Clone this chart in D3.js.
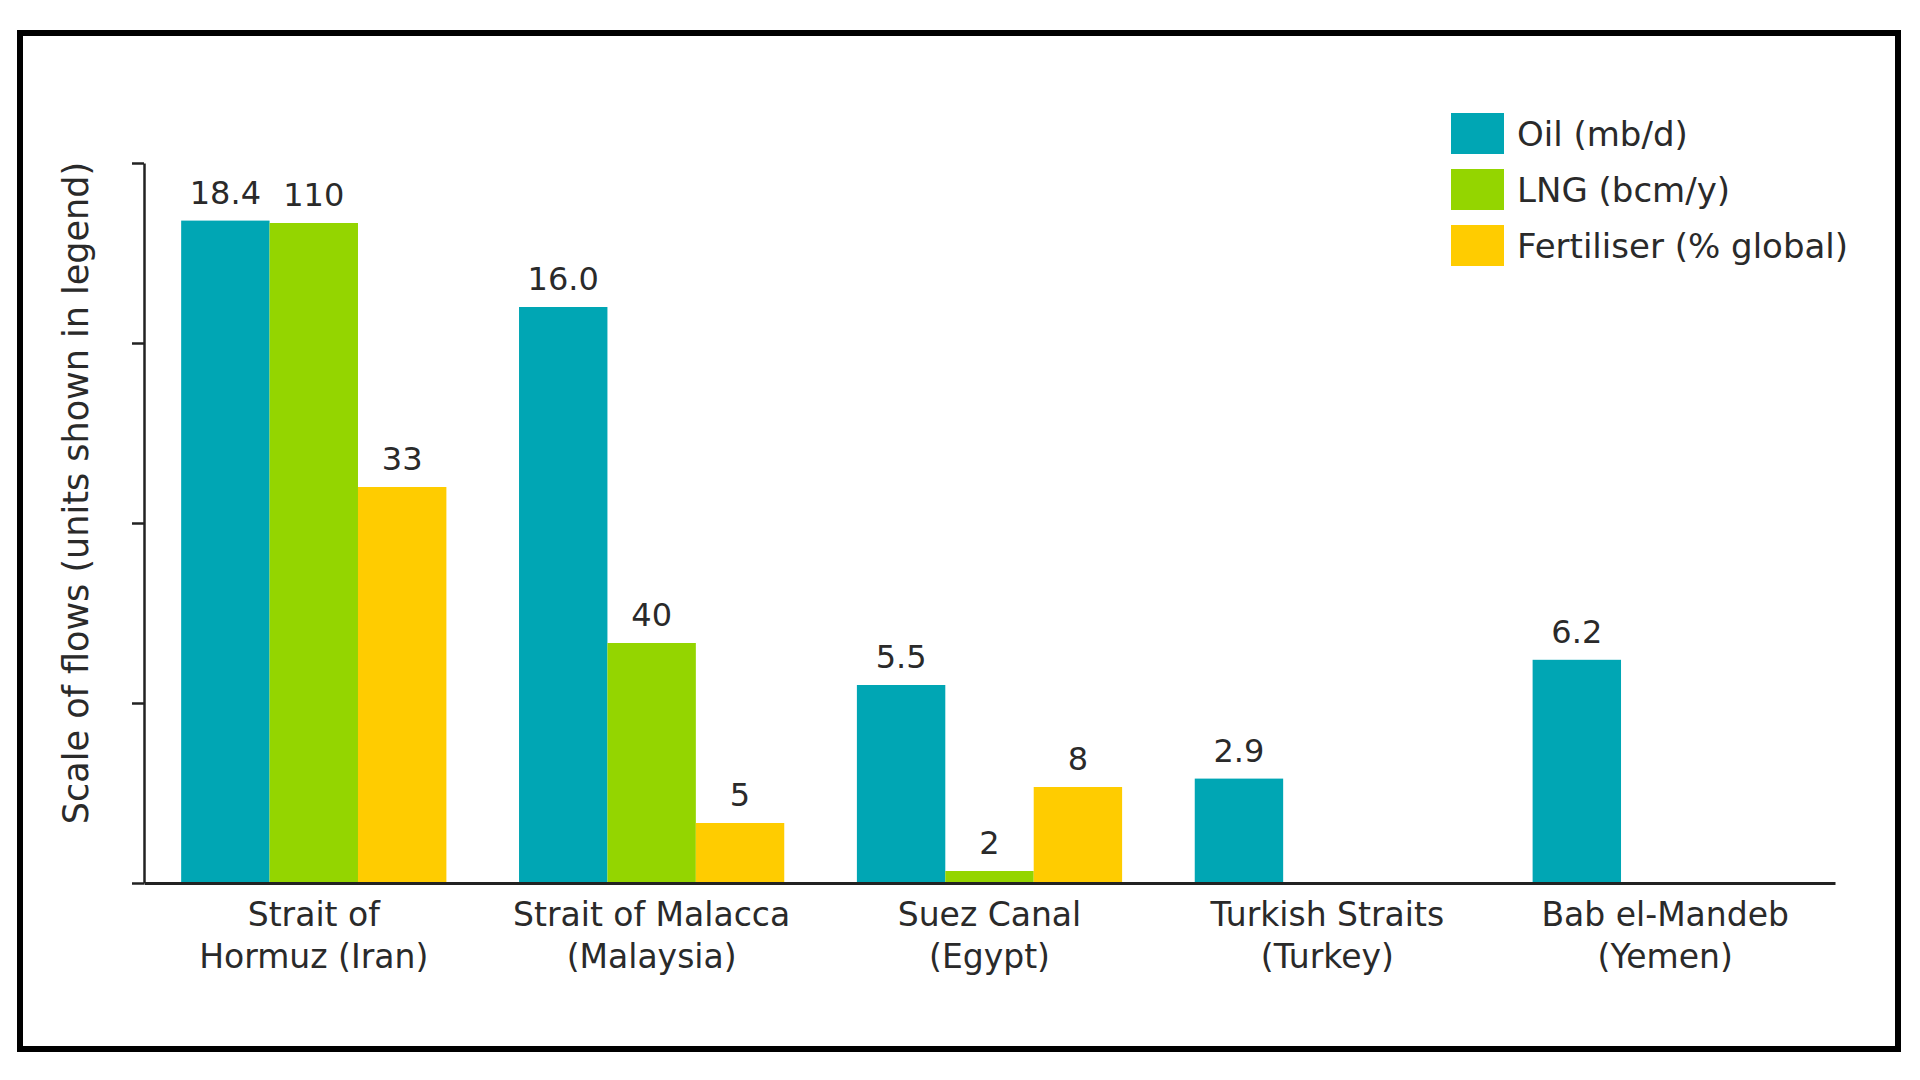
<!DOCTYPE html>
<html>
<head>
<meta charset="utf-8">
<script src="https://cdnjs.cloudflare.com/ajax/libs/d3/7.8.5/d3.min.js"></script>
<style>
    html, body { margin: 0; padding: 0; background: #fff; }
    text { font-family: "DejaVu Sans", sans-serif; fill: #2a2a2a; }
</style>
</head>
<body>
<div id="chart"></div>
<script>
// chokepoints and the three flows (each series has its own scale, units in legend)
var categories = ["Hormuz", "Malacca", "Suez", "Turkish", "Bab"];
var categoryLines = [
    ["Strait of", "Hormuz (Iran)"],
    ["Strait of Malacca", "(Malaysia)"],
    ["Suez Canal", "(Egypt)"],
    ["Turkish Straits", "(Turkey)"],
    ["Bab el-Mandeb", "(Yemen)"]
];
var seriesNames = ["Oil (mb/d)", "LNG (bcm/y)", "Fertiliser (% global)"];
var oil = [18.4, 16.0, 5.5, 2.9, 6.2];
var lng = [110, 40, 2, null, null];
var fertiliser = [33, 5, 8, null, null];
var seriesMax = [20, 120, 60];
var yTicks = [0, 5, 10, 15, 20];

var colors = ["#00a6b4", "#94d500", "#ffcc00"];
var formats = [d3.format(".1f"), d3.format("d"), d3.format("d")];
var values = [oil, lng, fertiliser];

var width = 1920, height = 1080;
var plotTop = 163, plotBottom = 883, plotLeft = 144, plotRight = 1835;

var svg = d3.select("#chart")
    .append("svg")
    .attr("width", width)
    .attr("height", height);

// frame
svg.append("rect")
    .attr("x", 20).attr("y", 33)
    .attr("width", 1878).attr("height", 1016)
    .attr("fill", "none")
    .attr("stroke", "#000")
    .style("stroke-width", 6);

var x0 = d3.scaleBand()
    .domain(categories)
    .range([plotLeft, plotRight])
    .paddingInner(0.215)
    .paddingOuter(0.11);
var x1 = d3.scaleBand()
    .domain(seriesNames)
    .range([0, x0.bandwidth()]);

var yScales = seriesMax.map(function (m) {
    return d3.scaleLinear().domain([0, m]).range([plotBottom, plotTop]);
});

// bars
seriesNames.forEach(function (name, s) {
    var data = values[s].map(function (v, i) { return { c: categories[i], v: v }; })
        .filter(function (d) { return d.v != null; });
    var y = yScales[s];
    var g = svg.append("g");
    g.selectAll("rect")
        .data(data)
        .enter().append("rect")
        .attr("x", function (d) { return x0(d.c) + x1(name); })
        .attr("y", function (d) { return y(d.v); })
        .attr("width", x1.bandwidth())
        .attr("height", function (d) { return y(0) - y(d.v); })
        .attr("fill", colors[s]);
    g.selectAll("text")
        .data(data)
        .enter().append("text")
        .attr("x", function (d) { return x0(d.c) + x1(name) + x1.bandwidth() / 2; })
        .attr("y", function (d) { return y(d.v) - 17; })
        .attr("text-anchor", "middle")
        .style("font-size", "32px")
        .text(function (d) { return formats[s](d.v); });
});

// y axis, ticks only
var yAxis = svg.append("g")
    .attr("transform", `translate(${plotLeft},0)`)
    .call(d3.axisLeft(yScales[0]).tickValues(yTicks).tickSize(12).tickSizeOuter(0).tickFormat(""));
yAxis.selectAll("line, path").attr("stroke", "#222").style("stroke-width", 2.5);

// x axis line
var xAxis = svg.append("g")
    .attr("transform", `translate(0,${plotBottom})`)
    .call(d3.axisBottom(x0).tickSize(0).tickSizeOuter(0).tickFormat(""));
xAxis.select("path").attr("stroke", "#222").style("stroke-width", 3);

// category labels (two lines)
var labels = svg.append("g").selectAll("text")
    .data(categories)
    .enter().append("text")
    .attr("text-anchor", "middle")
    .style("font-size", "33px");
labels.each(function (c, i) {
    var t = d3.select(this);
    categoryLines[i].forEach(function (line, k) {
        t.append("tspan")
            .attr("x", x0(c) + x0.bandwidth() / 2)
            .attr("y", 926 + k * 42)
            .text(line);
    });
});

// axis title
svg.append("text")
    .attr("transform", "translate(88,493) rotate(-90)")
    .attr("text-anchor", "middle")
    .style("font-size", "35px")
    .text("Scale of flows (units shown in legend)");

// legend
var legend = svg.append("g").attr("transform", "translate(1451,113)");
seriesNames.forEach(function (name, s) {
    legend.append("rect")
        .attr("x", 0).attr("y", s * 56)
        .attr("width", 53).attr("height", 41)
        .attr("fill", colors[s]);
    legend.append("text")
        .attr("x", 66).attr("y", s * 56 + 33)
        .style("font-size", "34px")
        .text(name);
});
</script>
</body>
</html>
